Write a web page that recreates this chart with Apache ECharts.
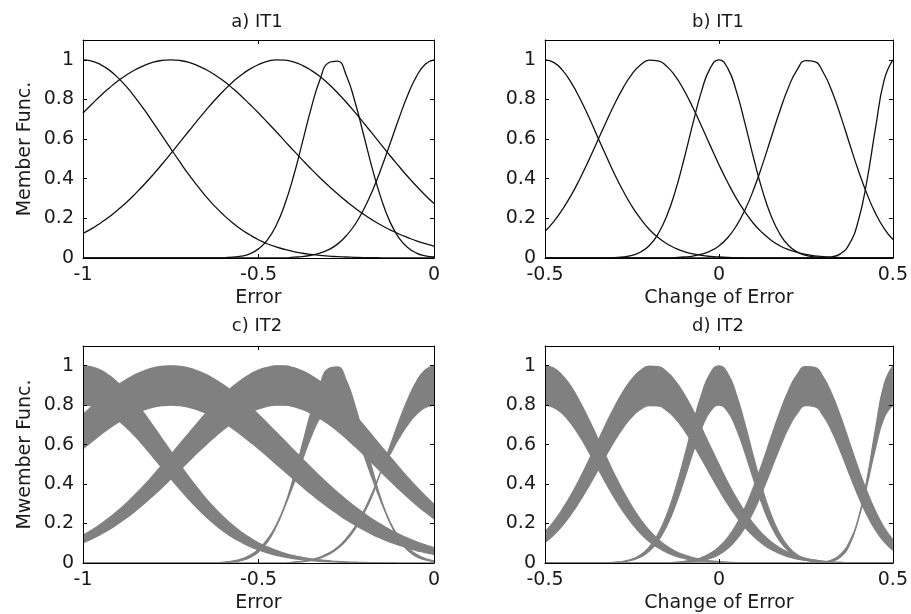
<!DOCTYPE html>
<html>
<head>
<meta charset="utf-8">
<title>IT1 / IT2 membership functions</title>
<script src="https://cdn.jsdelivr.net/npm/echarts@6/dist/echarts.min.js"></script>
<style>
  html, body { margin: 0; padding: 0; background: #fff; }
  #chart { width: 911px; height: 614px; }
</style>
</head>
<body>
<div id="chart"></div>
<script>
// sample positions (x) for each panel
const errorX = [-1, -0.975, -0.95, -0.925, -0.9, -0.875, -0.85, -0.825, -0.8, -0.775,
  -0.75, -0.725, -0.7, -0.675, -0.65, -0.625, -0.6, -0.575, -0.55, -0.525,
  -0.5, -0.475, -0.45, -0.425, -0.4, -0.375, -0.35, -0.325, -0.3, -0.275,
  -0.25, -0.225, -0.2, -0.175, -0.15, -0.125, -0.1, -0.075, -0.05, -0.025, 0];
const changeX = [-0.5, -0.475, -0.45, -0.425, -0.4, -0.375, -0.35, -0.325, -0.3, -0.275,
  -0.25, -0.225, -0.2, -0.175, -0.15, -0.125, -0.1, -0.075, -0.05, -0.025,
  0, 0.025, 0.05, 0.075, 0.1, 0.125, 0.15, 0.175, 0.2, 0.225,
  0.25, 0.275, 0.3, 0.325, 0.35, 0.375, 0.4, 0.425, 0.45, 0.475, 0.5];

const errorTicks = [-1, -0.5, 0];
const changeTicks = [-0.5, 0, 0.5];

// a) IT1 - Error
const errMF1 = [1, .994, .976, .948, .909, .862, .807, .747, .683, .618, .552, .487, .424, .366, .311, .262, .218, .179, .145, .117,
  .092, .072, .056, .043, .032, .024, .018, .013, .009, .007, .005, .003, .002, .002, .001, .001, .001, 0, 0, 0, 0];
const errMF2 = [.732, .776, .819, .858, .894, .925, .951, .972, .988, .997, 1, .997, .988, .972, .951, .925, .894, .858, .819, .776,
  .732, .685, .638, .590, .542, .495, .449, .405, .363, .324, .287, .252, .220, .191, .165, .142, .121, .103, .086, .072, .060];
const errMF3 = [.124, .148, .177, .208, .244, .283, .326, .372, .421, .473, .527, .582, .637, .692, .745, .796, .843, .886, .922, .953,
  .976, .992, 1, .998, .989, .972, .947, .916, .878, .834, .786, .735, .681, .626, .571, .516, .463, .411, .363, .317, .275];
const errMF4 = [0, 0, 0, 0, 0, 0, 0, 0, 0, 0, 0, 0, 0, 0, 0, 0, .001, .004, .009, .021,
  .046, .090, .163, .271, .414, .583, .755, .899, .985, .993, .922, .787, .618, .446, .297, .181, .102, .053, .025, .011, .005];
const errMF5 = [0, 0, 0, 0, 0, 0, 0, 0, 0, 0, 0, 0, 0, 0, 0, 0, 0, 0, 0, 0,
  0, 0, 0, 0, .004, .007, .014, .025, .042, .070, .112, .169, .246, .341, .454, .578, .704, .821, .916, .978, 1];

// b) IT1 - Change of Error
const chgMF1 = [1, .987, .948, .886, .806, .715, .616, .518, .423, .337, .261, .197, .144, .103, .072, .049, .032, .021, .013, .008,
  .005, .003, .002, .001, 0, 0, 0, 0, 0, 0, 0, 0, 0, 0, 0, 0, 0, 0, 0, 0, 0];
const chgMF2 = [.135, .184, .245, .316, .399, .490, .587, .684, .777, .860, .928, .975, .998, .995, .967, .916, .845, .759, .665, .567,
  .471, .382, .301, .232, .173, .127, .090, .062, .042, .028, .018, .011, .007, .004, .002, 0, 0, 0, 0, 0, 0];
const chgMF3 = [0, 0, 0, 0, 0, 0, 0, 0, .002, .005, .013, .030, .063, .121, .212, .340, .502, .678, .842, .958,
  1, .958, .842, .678, .502, .340, .212, .121, .063, .030, .013, .005, .002, 0, 0, 0, 0, 0, 0, 0, 0];
const chgMF4 = [0, 0, 0, 0, 0, 0, 0, 0, 0, 0, 0, 0, 0, 0, 0, .002, .005, .010, .019, .035,
  .061, .102, .162, .243, .347, .471, .607, .742, .862, .951, .996, .991, .936, .840, .716, .579, .445, .325, .225, .148, .093];
const chgMF5 = [0, 0, 0, 0, 0, 0, 0, 0, 0, 0, 0, 0, 0, 0, 0, 0, 0, 0, 0, 0,
  0, 0, 0, 0, 0, 0, 0, 0, 0, 0, 0, 0, .001, .006, .022, .071, .184, .386, .655, .899, 1];

// c) IT2 - Error (upper / lower membership)
const errUp1 = [1, .994, .978, .950, .913, .868, .815, .757, .695, .631, .567, .503, .441, .383, .328, .279, .234, .194, .159, .129,
  .103, .082, .064, .049, .038, .029, .021, .016, .012, .008, .006, .004, .003, .002, .001, .001, 0, 0, 0, 0, 0];
const errLo1 = [.80, .796, .780, .756, .724, .684, .639, .589, .536, .482, .428, .376, .325, .278, .235, .196, .161, .131, .106, .084,
  .066, .051, .039, .029, .022, .016, .012, .008, .006, .004, .003, .002, .001, 0, 0, 0, 0, 0, 0, 0, 0];
const errUp2 = [.753, .794, .834, .870, .903, .931, .956, .975, .989, .997, 1, .997, .989, .975, .956, .931, .903, .870, .834, .794,
  .753, .709, .664, .619, .573, .528, .483, .440, .398, .359, .321, .286, .253, .222, .195, .169, .147, .126, .108, .092, .078];
const errLo2 = [.579, .615, .650, .683, .712, .738, .760, .777, .790, .797, .80, .797, .790, .777, .760, .738, .712, .683, .650, .615,
  .579, .541, .502, .463, .424, .386, .349, .314, .280, .249, .219, .192, .167, .144, .124, .106, .090, .076, .063, .053, .043];
const errUp3 = [.141, .167, .197, .230, .266, .306, .350, .396, .445, .496, .548, .602, .655, .708, .759, .807, .852, .892, .927, .956,
  .978, .992, 1, .999, .990, .974, .951, .921, .885, .844, .798, .749, .698, .645, .591, .538, .486, .435, .387, .341, .298];
const errLo3 = [.102, .122, .145, .170, .199, .230, .265, .302, .341, .382, .425, .469, .513, .557, .598, .639, .676, .710, .739, .763,
  .781, .794, .80, .80, .792, .778, .758, .733, .703, .669, .631, .590, .548, .504, .460, .416, .374, .333, .294, .258, .224];
const errUp4 = [0, 0, 0, 0, 0, 0, 0, 0, 0, 0, 0, 0, 0, 0, 0, 0, .002, .005, .012, .027,
  .056, .105, .182, .294, .437, .603, .768, .905, .986, .994, .926, .799, .636, .470, .320, .202, .118, .064, .032, .015, .006];
const errLo4 = [0, 0, 0, 0, 0, 0, 0, 0, 0, 0, 0, 0, 0, 0, 0, 0, .004, .010, .020, .039,
  .070, .120, .191, .285, .399, .522, .640, .735, .791, .796, .750, .662, .547, .423, .307, .208, .132, .079, .044, .023, .011];
const errUp5 = [0, 0, 0, 0, 0, 0, 0, 0, 0, 0, 0, 0, 0, 0, 0, 0, 0, 0, 0, 0,
  0, 0, 0, 0, .005, .009, .017, .030, .050, .080, .125, .185, .264, .360, .472, .594, .717, .829, .920, .979, 1];
const errLo5 = [0, 0, 0, 0, 0, 0, 0, 0, 0, 0, 0, 0, 0, 0, 0, 0, 0, 0, 0, 0,
  0, 0, 0, 0, .003, .006, .013, .025, .043, .072, .114, .172, .250, .345, .468, .551, .631, .700, .754, .788, .80];

// d) IT2 - Change of Error
const chgUp1 = [1, .988, .951, .894, .819, .732, .638, .542, .449, .363, .287, .220, .165, .121, .086, .060, .041, .027, .017, .011,
  .007, .004, .002, 0, 0, 0, 0, 0, 0, 0, 0, 0, 0, 0, 0, 0, 0, 0, 0, 0, 0];
const chgLo1 = [.80, .789, .757, .706, .641, .565, .485, .405, .329, .260, .200, .149, .108, .077, .053, .035, .023, .014, .009, .005,
  .003, 0, 0, 0, 0, 0, 0, 0, 0, 0, 0, 0, 0, 0, 0, 0, 0, 0, 0, 0, 0];
const chgUp2 = [.158, .210, .273, .346, .428, .518, .611, .705, .792, .870, .933, .977, .998, .996, .970, .922, .856, .776, .686, .592,
  .500, .411, .330, .259, .198, .148, .108, .077, .054, .036, .024, .016, .010, .006, .004, 0, 0, 0, 0, 0, 0];
const chgLo2 = [.104, .142, .190, .247, .313, .386, .464, .543, .619, .686, .741, .779, .798, .796, .773, .731, .674, .604, .527, .448,
  .371, .299, .235, .180, .134, .097, .068, .047, .031, .020, .013, .008, .005, .003, 0, 0, 0, 0, 0, 0, 0];
const chgUp3 = [0, 0, 0, 0, 0, 0, 0, 0, .004, .009, .020, .042, .082, .147, .245, .377, .535, .704, .855, .962,
  1, .962, .855, .704, .535, .377, .245, .147, .082, .042, .020, .009, .004, 0, 0, 0, 0, 0, 0, 0, 0];
const chgLo3 = [0, 0, 0, 0, 0, 0, 0, 0, .002, .006, .014, .030, .061, .111, .187, .292, .420, .557, .681, .768,
  .80, .768, .681, .557, .420, .292, .187, .111, .061, .030, .014, .006, .002, 0, 0, 0, 0, 0, 0, 0, 0];
const chgUp4 = [0, 0, 0, 0, 0, 0, 0, 0, 0, 0, 0, 0, 0, 0, 0, .004, .008, .016, .028, .049,
  .082, .129, .195, .281, .388, .509, .639, .765, .875, .956, .996, .992, .942, .855, .741, .613, .484, .365, .263, .180, .118];
const chgLo4 = [0, 0, 0, 0, 0, 0, 0, 0, 0, 0, 0, 0, 0, 0, 0, 0, .003, .006, .012, .023,
  .042, .073, .118, .181, .263, .363, .473, .584, .684, .758, .797, .792, .746, .666, .563, .450, .341, .245, .166, .107, .065];
const chgUp5 = [0, 0, 0, 0, 0, 0, 0, 0, 0, 0, 0, 0, 0, 0, 0, 0, 0, 0, 0, 0,
  0, 0, 0, 0, 0, 0, 0, 0, 0, 0, 0, 0, .002, .009, .031, .090, .215, .421, .681, .908, 1];
const chgLo5 = [0, 0, 0, 0, 0, 0, 0, 0, 0, 0, 0, 0, 0, 0, 0, 0, 0, 0, 0, 0,
  0, 0, 0, 0, 0, 0, 0, 0, 0, 0, 0, 0, .005, .016, .045, .108, .222, .389, .581, .738, .80];

const FONT = 'DejaVu Sans';
const TEXT = '#1a1a1a';
const GRAY = '#808080';

const grids = [
    { left: 83, top: 40, width: 351, height: 218 },
    { left: 545, top: 40, width: 352, height: 218 },
    { left: 83, top: 346, width: 351, height: 217 },
    { left: 545, top: 346, width: 352, height: 217 }
];

function fmtY(v) {
    if (v > 1.05) return '';
    return String(Math.round(v * 10) / 10);
}

const boxLine = { show: true, onZero: false, lineStyle: { color: '#000', width: 1 } };

// category x axis, only the tick values get a tick and a label
function xAxes(g, xs, ticks, name) {
    let isTick = (idx, val) => ticks.indexOf(Number(val)) >= 0;
    let tick = { show: true, inside: true, length: 4, interval: isTick, lineStyle: { color: '#000' } };
    return [
        {
            gridIndex: g, type: 'category', data: xs.map(String), boundaryGap: false,
            position: 'bottom', z: 5,
            name: name, nameLocation: 'middle', nameGap: 31,
            nameTextStyle: { fontFamily: FONT, fontSize: 19, color: TEXT },
            axisLine: boxLine, axisTick: tick, splitLine: { show: false },
            axisLabel: { interval: isTick, margin: 8, fontFamily: FONT, fontSize: 19, color: TEXT }
        },
        {
            gridIndex: g, type: 'category', data: xs.map(String), boundaryGap: false,
            position: 'top', z: 5,
            axisLine: boxLine, axisTick: tick, splitLine: { show: false },
            axisLabel: { show: false }
        }
    ];
}

function yAxes(g, name) {
    let tick = { show: true, inside: true, length: 4, lineStyle: { color: '#000' } };
    let range = { min: 0, max: 1.1, interval: 0.2 };
    return [
        Object.assign({
            gridIndex: g, type: 'value', position: 'left', z: 5,
            name: name || '', nameLocation: 'middle', nameGap: 48,
            nameTextStyle: { fontFamily: FONT, fontSize: 19, color: TEXT },
            axisLine: boxLine, axisTick: tick, splitLine: { show: false },
            axisLabel: { margin: 9, fontFamily: FONT, fontSize: 19, color: TEXT, formatter: fmtY }
        }, range),
        Object.assign({
            gridIndex: g, type: 'value', position: 'right', z: 5,
            axisLine: boxLine, axisTick: tick, splitLine: { show: false },
            axisLabel: { show: false }
        }, range)
    ];
}

// black IT1 curve
function curve(g, ys) {
    return {
        type: 'line', xAxisIndex: g * 2, yAxisIndex: g * 2,
        data: ys, showSymbol: false, smooth: 0.5, silent: true,
        lineStyle: { color: '#111', width: 1.3 }
    };
}

// gray IT2 footprint between upper and lower MF (stacked: base + thickness)
function band(g, up, low, key) {
    let base = up.map((u, i) => Math.min(u, low[i]));
    let diff = up.map((u, i) => Math.abs(u - low[i]));
    let common = {
        type: 'line', xAxisIndex: g * 2, yAxisIndex: g * 2, stack: key,
        showSymbol: false, smooth: 0.5, silent: true,
        lineStyle: { color: GRAY, width: 1.2 }
    };
    return [
        Object.assign({ data: base }, common),
        Object.assign({ data: diff, areaStyle: { color: GRAY, opacity: 1 } }, common)
    ];
}

function titleAt(text, x, y) {
    return {
        text: text, left: x, top: y, textAlign: 'center', padding: 0,
        textStyle: { fontFamily: FONT, fontSize: 18, fontWeight: 'normal', color: TEXT }
    };
}

let series = [];
[errMF1, errMF2, errMF3, errMF4, errMF5].forEach(ys => series.push(curve(0, ys)));
[chgMF1, chgMF2, chgMF3, chgMF4, chgMF5].forEach(ys => series.push(curve(1, ys)));
[[errUp1, errLo1], [errUp2, errLo2], [errUp3, errLo3], [errUp4, errLo4], [errUp5, errLo5]]
    .forEach((b, i) => series.push(...band(2, b[0], b[1], 'c' + i)));
[[chgUp1, chgLo1], [chgUp2, chgLo2], [chgUp3, chgLo3], [chgUp4, chgLo4], [chgUp5, chgLo5]]
    .forEach((b, i) => series.push(...band(3, b[0], b[1], 'd' + i)));

let chart = echarts.init(document.getElementById('chart'));
chart.setOption({
    backgroundColor: '#fff',
    animation: false,
    title: [
        titleAt('a) IT1', 257, 13),
        titleAt('b) IT1', 718, 13),
        titleAt('c) IT2', 257, 317),
        titleAt('d) IT2', 718, 317)
    ],
    grid: grids,
    xAxis: [].concat(
        xAxes(0, errorX, errorTicks, 'Error'),
        xAxes(1, changeX, changeTicks, 'Change of Error'),
        xAxes(2, errorX, errorTicks, 'Error'),
        xAxes(3, changeX, changeTicks, 'Change of Error')
    ),
    yAxis: [].concat(
        yAxes(0, 'Member Func.'),
        yAxes(1),
        yAxes(2, 'Mwember Func.'),
        yAxes(3)
    ),
    series: series
});

window.addEventListener('resize', () => chart.resize());
</script>
</body>
</html>
